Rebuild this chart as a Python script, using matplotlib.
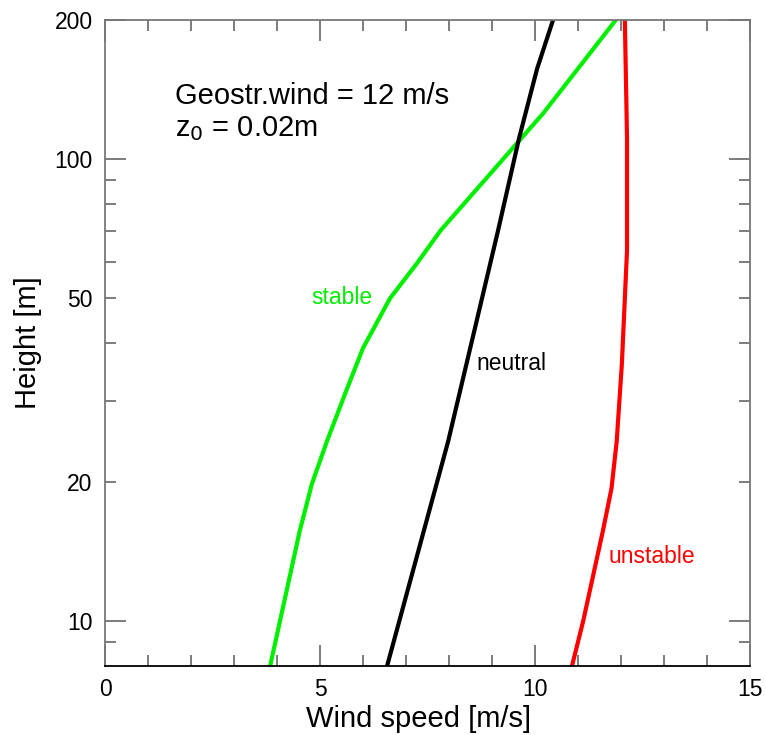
import numpy as np
import matplotlib
matplotlib.use("Agg")
import matplotlib.pyplot as plt

plt.rcParams['font.family'] = ['Liberation Sans', 'DejaVu Sans']

### Profiles (height [m], wind speed [m/s])

stable_z = [8, 15.7, 19.8, 24.5, 31, 39, 50, 59.4, 70, 125.6, 200]
stable_u = [3.84, 4.53, 4.81, 5.16, 5.58, 6.0, 6.63, 7.25, 7.8, 10.19, 11.88]

neutral_z = [8, 24.5, 70, 111, 157, 200]
neutral_u = [6.56, 7.98, 9.14, 9.63, 10.05, 10.42]

unstable_z = [8, 10, 15.7, 19.4, 24.5, 36, 63.4, 111, 200]
unstable_u = [10.86, 11.12, 11.58, 11.78, 11.9, 12.02, 12.14, 12.14, 12.09]

y_major = [10, 100, 200]
y_major_labels = ['10', '100', '200']
y_minor = [9, 20, 30, 40, 50, 60, 70, 80, 90]
y_minor_labels = ['', '20', '', '', '50', '', '', '', '']

fig = plt.figure(figsize=(7.66, 7.35), dpi=100)
ax = fig.add_axes([0.1371, 0.0939, 0.8420, 0.8789])

ax.plot(stable_u, stable_z, color='#00ee00', lw=3, solid_capstyle='round')
ax.plot(neutral_u, neutral_z, color='black', lw=3, solid_capstyle='round')
ax.plot(unstable_u, unstable_z, color='#ff0000', lw=3, solid_capstyle='round')

ax.set_yscale('log')
ax.set_xlim(0, 15)
ax.set_ylim(8, 200)

ax.set_xticks([0, 5, 10, 15])
ax.set_xticks(np.arange(0, 16, 1), minor=True)
ax.set_yticks(y_major, labels=y_major_labels)
ax.set_yticks(y_minor, labels=y_minor_labels, minor=True)

ax.tick_params(which='both', direction='in', top=True, right=True,
               labelsize=16.5, color='#666666', width=1.2, pad=9)
ax.tick_params(which='major', length=15)
ax.tick_params(which='minor', length=8)

for side in ['left', 'right', 'top']:
   ax.spines[side].set_color('#777777')
   ax.spines[side].set_linewidth(1.3)
ax.spines['bottom'].set_color('black')
ax.spines['bottom'].set_linewidth(1.3)

ax.set_xlabel('Wind speed [m/s]', fontsize=21)
ax.xaxis.set_label_coords(0.486, -0.060)
ax.set_ylabel('Height [m]', fontsize=21, labelpad=9)

ax.text(0.1085, 0.882, 'Geostr.wind = 12 m/s', transform=ax.transAxes,
        fontsize=21, va='center', ha='left')
ax.text(0.1085, 0.832, r'z$_0$ = 0.02m', transform=ax.transAxes,
        fontsize=21, va='center', ha='left')

ax.text(4.79, 50.3, 'stable', color='#00ee00', fontsize=16.5, va='center')
ax.text(8.63, 36.2, 'neutral', color='black', fontsize=16.5, va='center')
ax.text(11.72, 13.8, 'unstable', color='#ff0000', fontsize=16.5, va='center')

fig.savefig('out.png', dpi=100)
